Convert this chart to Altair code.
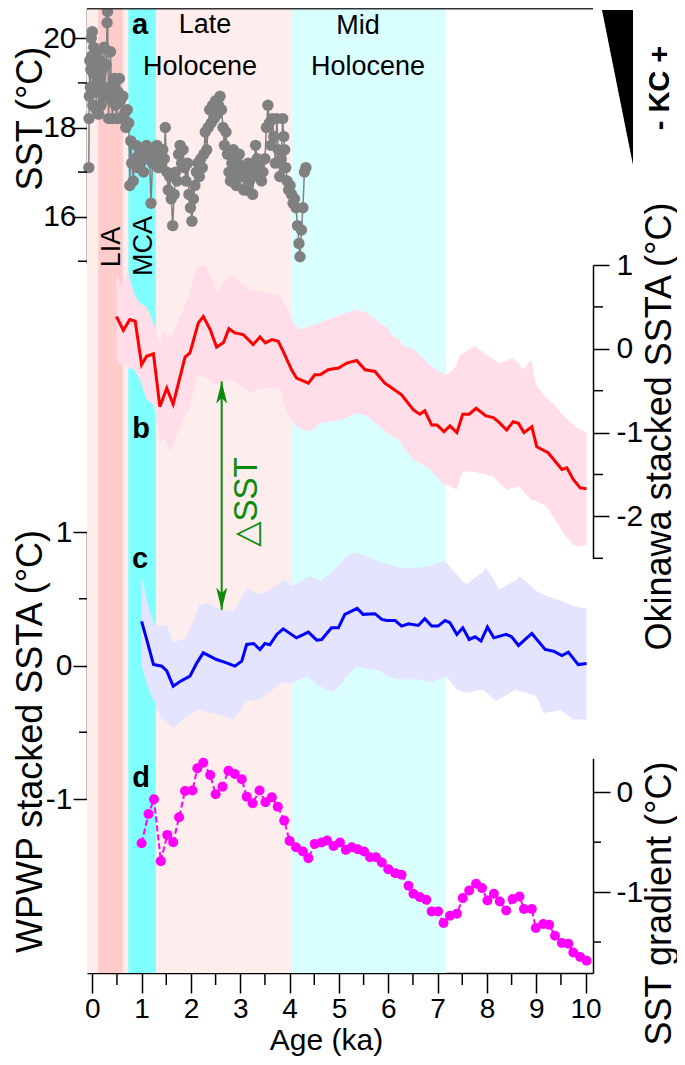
import altair as alt
import pandas as pd

FONT = "Liberation Sans"

# ---------------- Panel a : SST (°C) ----------------
a_age = [-0.07, -0.065, -0.06, -0.05, -0.04, -0.03, -0.02, -0.01, 0.00, 0.01,
         0.02, 0.03, 0.05, 0.06, 0.08, 0.09, 0.11, 0.13, 0.14, 0.16,
         0.18, 0.20, 0.22, 0.24, 0.26, 0.28, 0.30, 0.31, 0.33, 0.35,
         0.37, 0.39, 0.41, 0.43, 0.45, 0.47, 0.50, 0.52, 0.55, 0.57,
         0.60, 0.62, 0.65, 0.68, 0.71, 0.74, 0.76, 0.78, 0.80, 0.83,
         0.86, 0.89, 0.92, 0.95, 0.98, 1.01, 1.04, 1.07, 1.10, 1.13,
         1.16, 1.19, 1.22, 1.25, 1.28, 1.31, 1.34, 1.37, 1.40, 1.43,
         1.46, 1.48, 1.51, 1.54, 1.57, 1.60, 1.63, 1.66, 1.69, 1.72,
         1.75, 1.78, 1.81, 1.84, 1.87, 1.90, 1.93, 1.96, 1.99, 2.02,
         2.05, 2.08, 2.11, 2.14, 2.17, 2.20, 2.23, 2.26, 2.29, 2.32,
         2.35, 2.38, 2.41, 2.44, 2.47, 2.50, 2.53, 2.56, 2.59, 2.62,
         2.65, 2.68, 2.71, 2.74, 2.77, 2.80, 2.83, 2.86, 2.89, 2.92,
         2.95, 2.98, 3.01, 3.04, 3.07, 3.10, 3.13, 3.16, 3.19, 3.22,
         3.25, 3.28, 3.31, 3.34, 3.37, 3.40, 3.43, 3.46, 3.50, 3.53,
         3.56, 3.59, 3.62, 3.65, 3.68, 3.71, 3.74, 3.77, 3.80, 3.83,
         3.86, 3.88, 3.90, 3.92, 3.95, 3.98, 4.01, 4.04, 4.07, 4.10,
         4.13, 4.16, 4.19, 4.21, 4.24, 4.27, 4.30, 4.33]
a_sst = [17.1, 18.2, 18.7, 19.5, 18.9, 19.3, 20.0, 19.6, 20.15, 18.5,
         19.2, 19.8, 18.8, 19.4, 18.4, 19.0, 19.7, 18.3, 18.9, 19.5,
         18.5, 19.3, 18.7, 19.8, 18.9, 19.4, 20.35, 20.6, 18.2, 18.8,
         19.7, 18.6, 18.2, 18.9, 19.1, 18.5, 18.2, 18.8, 19.1, 18.6,
         18.2, 18.7, 18.3, 18.0, 18.4, 18.1, 16.7, 17.7, 17.2, 16.8,
         17.3, 17.6, 17.1, 17.4, 17.2, 17.5, 17.0, 17.4, 17.6, 17.3,
         17.5, 16.3, 17.2, 17.5, 17.3, 17.6, 17.1, 17.4, 17.2, 17.5,
         17.3, 18.0, 17.0, 16.6, 16.9, 16.4, 15.8, 16.5, 17.0, 16.8,
         17.4, 17.6, 17.2, 17.5, 17.1, 16.8, 17.2, 16.5, 16.2, 15.9,
         16.4, 16.7, 17.0, 17.2, 16.9, 17.3, 17.1, 17.4, 17.9, 17.5,
         18.0, 18.4, 18.1, 18.5, 18.2, 18.6, 18.3, 18.5, 18.7, 18.4,
         18.0, 17.6, 17.9, 17.4, 17.0, 16.8, 17.2, 17.5, 17.0, 16.7,
         17.2, 17.4, 16.9, 17.1, 16.6, 17.0, 16.6, 17.2, 16.8, 17.1,
         16.5, 17.0, 17.6, 17.3, 16.9, 17.2, 16.8, 17.0, 17.3, 18.0,
         18.5, 18.1, 17.6, 18.2, 17.8, 17.2, 18.2, 17.5, 16.9, 17.3,
         18.2, 17.8, 17.5, 17.1, 16.8, 16.6, 16.7, 16.5, 16.3, 16.4,
         16.2, 15.8, 15.4, 15.1, 15.7, 16.2, 17.0, 17.1]

# ---------------- Panel b : Okinawa stacked SSTA ----------------
b_age = [0.49, 0.63, 0.76, 0.87, 1.00, 1.10, 1.24, 1.37, 1.51, 1.64,
         1.88, 1.98, 2.15, 2.25, 2.39, 2.52, 2.66, 2.77, 2.89, 3.06,
         3.26, 3.40, 3.51, 3.64, 3.77, 3.87, 4.04, 4.14, 4.38, 4.51,
         4.62, 4.78, 4.99, 5.16, 5.36, 5.53, 5.73, 5.93, 6.03, 6.27,
         6.51, 6.64, 6.74, 6.88, 6.99, 7.13, 7.25, 7.39, 7.51, 7.64,
         7.78, 7.98, 8.13, 8.23, 8.40, 8.53, 8.64, 8.75, 8.91, 9.01,
         9.24, 9.52, 9.62, 9.75, 9.89, 10.02]
b_val = [0.385, 0.22, 0.35, 0.33, -0.19, -0.09, -0.06, -0.69, -0.47, -0.66,
         -0.10, -0.05, 0.31, 0.385, 0.23, 0.02, 0.075, 0.24, 0.19, 0.17,
         0.05, 0.14, 0.07, 0.11, 0.09, -0.03, -0.25, -0.35, -0.41, -0.31,
         -0.31, -0.25, -0.23, -0.17, -0.14, -0.25, -0.27, -0.41, -0.45, -0.55,
         -0.73, -0.78, -0.74, -0.91, -0.91, -0.99, -0.92, -1.0, -0.78, -0.78,
         -0.71, -0.80, -0.82, -0.87, -0.97, -0.87, -0.89, -1.0, -0.93, -1.17,
         -1.24, -1.44, -1.42, -1.56, -1.66, -1.67]
b_band_age = [0.49, 0.60, 0.72, 0.85, 0.95, 1.10, 1.25, 1.37, 1.45, 1.58,
              1.78, 1.98, 2.12, 2.28, 2.42, 2.52, 2.66, 2.79, 2.99, 3.20,
              3.47, 3.80, 3.94, 4.07, 4.21, 4.41, 4.62, 4.78, 5.02, 5.16,
              5.36, 5.56, 5.83, 5.97, 6.10, 6.24, 6.30, 6.51, 6.85, 7.15,
              7.19, 7.39, 7.45, 7.52, 7.75, 7.98, 8.12, 8.25, 8.40, 8.53,
              8.66, 8.73, 8.90, 9.00, 9.20, 9.34, 9.47, 9.55, 9.75, 9.88,
              10.02]
b_band_hi = [0.88, 0.75, 0.93, 0.65, 0.55, 0.50, 0.30, 0.05, 0.20, 0.13,
             0.38, 0.66, 0.98, 1.00, 0.86, 0.66, 0.78, 0.88, 0.80, 0.70,
             0.68, 0.64, 0.50, 0.31, 0.23, 0.27, 0.31, 0.35, 0.40, 0.43,
             0.47, 0.43, 0.31, 0.25, 0.15, 0.10, 0.04, 0.00, -0.20, -0.31,
             -0.31, -0.20, -0.07, -0.05, 0.03, -0.07, -0.12, -0.17, -0.14, -0.11,
             -0.18, -0.25, -0.13, -0.44, -0.58, -0.65, -0.74, -0.80, -0.90, -0.96,
             -1.00]
b_band_lo = [-0.13, -0.20, -0.22, -0.25, -0.35, -0.60, -0.68, -1.12, -1.07, -1.23,
             -0.93, -0.69, -0.33, -0.33, -0.40, -0.43, -0.40, -0.37, -0.43, -0.52,
             -0.47, -0.47, -0.77, -0.89, -0.95, -0.99, -0.89, -0.87, -0.85, -0.82,
             -0.77, -0.80, -0.93, -1.00, -1.05, -1.10, -1.18, -1.32, -1.44, -1.64,
             -1.62, -1.68, -1.55, -1.46, -1.47, -1.50, -1.52, -1.60, -1.68, -1.66,
             -1.64, -1.70, -1.80, -1.82, -1.88, -2.00, -2.12, -2.20, -2.34, -2.36,
             -2.34]

# ---------------- Panel c : WPWP stacked SSTA ----------------
c_age = [1.00, 1.10, 1.24, 1.41, 1.51, 1.64, 1.78, 1.98, 2.12, 2.25,
         2.52, 2.72, 2.89, 3.03, 3.13, 3.27, 3.40, 3.50, 3.60, 3.74,
         3.87, 4.14, 4.38, 4.55, 4.65, 4.85, 4.99, 5.12, 5.37, 5.49,
         5.73, 5.87, 5.97, 6.14, 6.27, 6.41, 6.61, 6.74, 6.88, 7.01,
         7.15, 7.25, 7.39, 7.51, 7.64, 7.76, 7.88, 8.01, 8.14, 8.39,
         8.50, 8.64, 8.91, 9.18, 9.35, 9.52, 9.65, 9.85, 10.02]
c_val = [0.33, 0.20, 0.008, -0.005, -0.04, -0.155, -0.12, -0.08, 0.02, 0.095,
         0.045, 0.02, -0.005, 0.033, 0.158, 0.165, 0.12, 0.165, 0.155, 0.233,
         0.275, 0.207, 0.25, 0.19, 0.195, 0.283, 0.283, 0.383, 0.428, 0.383,
         0.388, 0.345, 0.337, 0.337, 0.295, 0.312, 0.30, 0.35, 0.295, 0.295,
         0.337, 0.32, 0.233, 0.283, 0.195, 0.215, 0.183, 0.288, 0.207, 0.233,
         0.215, 0.15, 0.24, 0.12, 0.107, 0.075, 0.10, 0.007, 0.015]
c_band_age = [1.00, 1.10, 1.17, 1.27, 1.40, 1.51, 1.64, 1.85, 1.91, 2.12,
              2.15, 2.32, 2.45, 2.59, 2.86, 3.13, 3.40, 3.67, 3.80, 3.87,
              4.07, 4.34, 4.41, 4.62, 4.89, 5.09, 5.16, 5.29, 5.36, 5.56,
              5.70, 5.83, 5.97, 6.23, 6.64, 6.85, 7.11, 7.18, 7.39, 7.58,
              7.92, 7.98, 8.18, 8.25, 8.59, 8.66, 9.00, 9.15, 9.41, 9.47,
              9.75, 10.02]
c_band_hi = [0.67, 0.50, 0.40, 0.30, 0.30, 0.30, 0.17, 0.20, 0.22, 0.40,
             0.445, 0.47, 0.45, 0.42, 0.41, 0.575, 0.533, 0.583, 0.62, 0.645,
             0.595, 0.66, 0.67, 0.633, 0.708, 0.795, 0.81, 0.845, 0.84, 0.82,
             0.80, 0.77, 0.76, 0.733, 0.733, 0.75, 0.783, 0.77, 0.68, 0.608,
             0.70, 0.733, 0.62, 0.57, 0.64, 0.67, 0.558, 0.53, 0.495, 0.49,
             0.445, 0.425]
c_band_lo = [0.00, -0.13, -0.205, -0.28, -0.40, -0.42, -0.47, -0.405, -0.38, -0.343,
             -0.33, -0.35, -0.355, -0.37, -0.405, -0.268, -0.255, -0.18, -0.13, -0.13,
             -0.13, -0.08, -0.10, -0.155, -0.205, -0.12, -0.08, -0.03, -0.005, -0.02,
             -0.03, -0.043, -0.08, -0.105, -0.105, -0.13, -0.09, -0.08, -0.18, -0.205,
             -0.18, -0.20, -0.268, -0.25, -0.18, -0.19, -0.23, -0.355, -0.34, -0.33,
             -0.405, -0.405]

# ---------------- Panel d : SST gradient ----------------
d_age = [1.00, 1.14, 1.25, 1.39, 1.52, 1.64, 1.76, 1.88, 2.03, 2.13,
         2.25, 2.39, 2.50, 2.64, 2.76, 2.89, 3.03, 3.13, 3.25, 3.39,
         3.51, 3.64, 3.76, 3.89, 4.00, 4.13, 4.27, 4.38, 4.51, 4.65,
         4.76, 4.89, 5.02, 5.14, 5.26, 5.38, 5.51, 5.63, 5.75, 5.87,
         6.00, 6.14, 6.27, 6.41, 6.51, 6.64, 6.77, 6.88, 7.01, 7.12,
         7.25, 7.39, 7.51, 7.64, 7.78, 7.90, 8.01, 8.14, 8.26, 8.39,
         8.52, 8.66, 8.75, 8.91, 8.99, 9.14, 9.26, 9.38, 9.52, 9.65,
         9.75, 9.89, 10.02]
d_val = [-0.51, -0.217, -0.07, -0.69, -0.427, -0.50, -0.25, 0.013, 0.017, 0.24,
         0.296, 0.173, -0.02, 0.056, 0.216, 0.183, 0.13, -0.044, -0.11, 0.017,
         -0.10, -0.05, -0.144, -0.284, -0.487, -0.55, -0.594, -0.66, -0.517, -0.504,
         -0.484, -0.537, -0.504, -0.577, -0.55, -0.57, -0.594, -0.65, -0.65, -0.704,
         -0.77, -0.81, -0.827, -0.937, -1.017, -1.05, -1.077, -1.193, -1.193, -1.31,
         -1.237, -1.217, -1.06, -0.984, -0.917, -0.96, -1.084, -1.017, -1.094, -1.184,
         -1.07, -1.044, -1.17, -1.17, -1.36, -1.32, -1.327, -1.437, -1.51, -1.517,
         -1.604, -1.65, -1.687]

# ---------------- Background periods ----------------
period_name = ["Late Holocene", "LIA", "MCA", "Mid Holocene"]
period_start = [-0.107, 0.12, 0.73, 4.03]
period_end = [4.03, 0.62, 1.29, 7.17]
period_color = ["#fdeeed", "#ffcccc", "#80ffff", "#d9ffff"]

# ticks: labelled (major) and unlabelled (minor)
x_major = [0, 1, 2, 3, 4, 5, 6, 7, 8, 9, 10]
x_minor = [0.5, 1.5, 2.5, 3.5, 4.5, 5.5, 6.5, 7.5, 8.5, 9.5]
a_major = [16, 18, 20]
a_minor = [15, 17, 19]
b_major = [-2, -1, 0, 1]
b_minor = [-2.5, -1.5, -0.5, 0.5]
c_major = [-1, 0, 1]
c_minor = [-0.5, 0.5]
d_major = [-1, 0]
d_minor = [-1.5, -0.5]

# delta-SST arrow (age, from Okinawa level to WPWP level, expressed on the b axis)
arrow_age = [2.623]
arrow_top = [-0.39]
arrow_bottom = [-3.115]

GREEN = "#0b8a0b"

# ---------------- scales & axes ----------------
W, H = 506, 965
X_SCALE = alt.Scale(domain=[-0.107, 10.15], nice=False, zero=False)


def sc(domain, rng):
    return alt.Scale(domain=domain, range=rng, nice=False, zero=False)


DOM = {"a": ([14.95, 20.68], [255.5, 0]),
       "b": ([-2.5, 1], [550.3, 257]),
       "c": ([-1, 1], [791, 524]),
       "d": ([-1.81, 0.34], [965, 750.3])}

COMMON = dict(labelFont=FONT, labelFontSize=30, labelColor="black",
              titleFont=FONT, titleFontSize=36, titleFontWeight="normal", titleColor="black",
              domainColor="black", tickColor="black", domainWidth=1.5, tickWidth=1.5,
              grid=False, labelOverlap=False, labelFlush=False,
              titleAlign="center", titleBaseline="alphabetic",
              labelExpr="toString(datum.value)")


def axis(**kw):
    props = dict(COMMON)
    props.update(kw)
    return alt.Axis(**props)


AXES = {
    "a": axis(orient="left", values=a_major, tickSize=14, labelPadding=-3,
              title="SST (°C)", titleAngle=270, titleX=-46, titleY=110),
    "b": axis(orient="right", values=b_major, tickSize=16, labelPadding=7,
              title="Okinawa stacked SSTA (°C)", titleAngle=270, titleX=77, titleY=418),
    "c": axis(orient="left", values=c_major, tickSize=14, labelPadding=1,
              title="WPWP stacked SSTA (°C)", titleAngle=270, titleX=-46, titleY=733),
    "d": axis(orient="right", values=d_major, tickSize=17, labelPadding=6,
              title="SST gradient (°C)", titleAngle=270, titleX=77, titleY=895),
}
# one identical x-axis definition for every layer that uses the age scale
AX_X = axis(orient="bottom", values=x_major, tickSize=20, labelPadding=2, labelFontSize=28,
            title="Age (ka)", titleFontSize=30, titleX=239, titleY=76, titleAngle=0)


def X(field="age"):
    return alt.X(f"{field}:Q", scale=X_SCALE, axis=AX_X)


def Y(field, panel, with_axis=False):
    d, r = DOM[panel]
    return alt.Y(f"{field}:Q", scale=sc(d, r), axis=AXES[panel] if with_axis else None)


def minor_y(values, panel, side, length):
    df = pd.DataFrame({"v": values})
    x0 = 0 if side == "left" else W
    x1 = -length if side == "left" else W + length
    return alt.Chart(df).mark_rule(color="black", strokeWidth=1.5).encode(
        x=alt.value(x0), x2=alt.value(x1), y=Y("v", panel))


# ---------------- layers (flat; each panel layer carries the same explicit scale) ----------------
periods = pd.DataFrame({"name": period_name, "start": period_start,
                        "end": period_end, "color": period_color})
bg = alt.Chart(periods).mark_rect().encode(
    x=X("start"), x2="end:Q", color=alt.Color("color:N", scale=None))
x_minor_ticks = alt.Chart(pd.DataFrame({"v": x_minor})).mark_rule(
    color="black", strokeWidth=1.5).encode(
    x=X("v"), y=alt.value(H), y2=alt.value(H + 12))

c_band_df = pd.DataFrame({"age": c_band_age, "hi": c_band_hi, "lo": c_band_lo})
c_df = pd.DataFrame({"age": c_age, "val": c_val})
c_band = alt.Chart(c_band_df).mark_area(color="#e4e4ff", opacity=1).encode(
    x=X(), y=Y("lo", "c", True), y2="hi:Q")
c_line = alt.Chart(c_df).mark_line(color="#0000ff", strokeWidth=3).encode(
    x=X(), y=Y("val", "c"))

b_band_df = pd.DataFrame({"age": b_band_age, "hi": b_band_hi, "lo": b_band_lo})
b_df = pd.DataFrame({"age": b_age, "val": b_val})
b_band = alt.Chart(b_band_df).mark_area(color="#ffdde9", opacity=1).encode(
    x=X(), y=Y("lo", "b", True), y2="hi:Q")
b_line = alt.Chart(b_df).mark_line(color="#ff0000", strokeWidth=3).encode(
    x=X(), y=Y("val", "b"))

arrow_df = pd.DataFrame({"age": arrow_age, "top": arrow_top, "bottom": arrow_bottom})
UP = "M 0 0 L 0.4 1.6 L 0 1.2 L -0.4 1.6 Z"
DOWN = "M 0 0 L 0.4 -1.6 L 0 -1.2 L -0.4 -1.6 Z"
arrow_rule = alt.Chart(arrow_df).mark_rule(color=GREEN, strokeWidth=2).encode(
    x=X(), y=Y("top", "b"), y2="bottom:Q")
arrow_up = alt.Chart(arrow_df).mark_point(shape=UP, size=756, filled=True, color=GREEN,
                                          opacity=1, strokeWidth=0).encode(
    x=X(), y=Y("top", "b"))
arrow_dn = alt.Chart(arrow_df).mark_point(shape=DOWN, size=756, filled=True, color=GREEN,
                                          opacity=1, strokeWidth=0).encode(
    x=X(), y=Y("bottom", "b"))

a_df = pd.DataFrame({"age": a_age, "sst": a_sst})
a_line = alt.Chart(a_df).mark_line(color="#808080", strokeWidth=1.5).encode(
    x=X(), y=Y("sst", "a", True))
a_pts = alt.Chart(a_df).mark_point(filled=True, size=130, color="#808080", opacity=1,
                                   strokeWidth=0).encode(x=X(), y=Y("sst", "a"))

d_df = pd.DataFrame({"age": d_age, "val": d_val})
d_line = alt.Chart(d_df).mark_line(color="#ff00ff", strokeWidth=2, strokeDash=[6, 3]).encode(
    x=X(), y=Y("val", "d", True))
d_pts = alt.Chart(d_df).mark_point(filled=True, size=100, color="#ff00ff", opacity=1,
                                   strokeWidth=0).encode(x=X(), y=Y("val", "d"))


# ---------------- annotations ----------------
def txt(s, px, py, size=27, angle=0, weight="normal", color="black", font=FONT):
    kw = dict(font=font, fontSize=size, align="center", baseline="alphabetic",
              color=color, fontWeight=weight, text=s)
    if angle:
        kw["angle"] = angle
    return alt.Chart(pd.DataFrame({"k": [0]})).mark_text(**kw).encode(
        x=alt.value(px), y=alt.value(py))


texts = [
    txt("Late", 118, 25), txt("Holocene", 113, 67),
    txt("Mid", 271, 26), txt("Holocene", 281, 67),
    txt("LIA", 33, 239, angle=270), txt("MCA", 65, 238, angle=270),
    txt("a", 53, 26, size=29, weight="bold"), txt("b", 54, 430, size=29, weight="bold"),
    txt("c", 53, 560, size=29, weight="bold"), txt("d", 54, 779, size=29, weight="bold"),
    txt("△SST", 170, 494, size=33, angle=270, color=GREEN,
        font="Liberation Sans, DejaVu Sans"),
    txt("-  KC  +", 582, 80, size=29, angle=270, weight="bold"),
]

one = pd.DataFrame({"k": [0]})
kc_wedge = alt.Chart(one).mark_point(
    shape="M -0.2 -1 L 0.2 -1 L 0.2 1 Z", size=24025, filled=True, color="black",
    opacity=1, strokeWidth=0).encode(x=alt.value(530.5), y=alt.value(79.5))
top_frame = alt.Chart(one).mark_rule(color="#333333", strokeWidth=3).encode(
    x=alt.value(0), x2=alt.value(W), y=alt.value(0))

chart = alt.layer(
    bg, x_minor_ticks,
    c_band, c_line, minor_y(c_minor, "c", "left", 8),
    b_band, b_line, arrow_rule, arrow_up, arrow_dn, minor_y(b_minor, "b", "right", 10),
    a_line, a_pts, minor_y(a_minor, "a", "left", 9),
    d_line, d_pts, minor_y(d_minor, "d", "right", 8),
    *texts, kc_wedge, top_frame,
).resolve_scale(y="independent").properties(
    width=W, height=H,
    autosize=alt.AutoSizeParams(type="none"),
    padding={"left": 79, "top": 0, "right": 84, "bottom": 84},
    background="white",
).configure_view(stroke=None)

chart.save("out.html", embed_options={"renderer": "svg", "actions": False})
